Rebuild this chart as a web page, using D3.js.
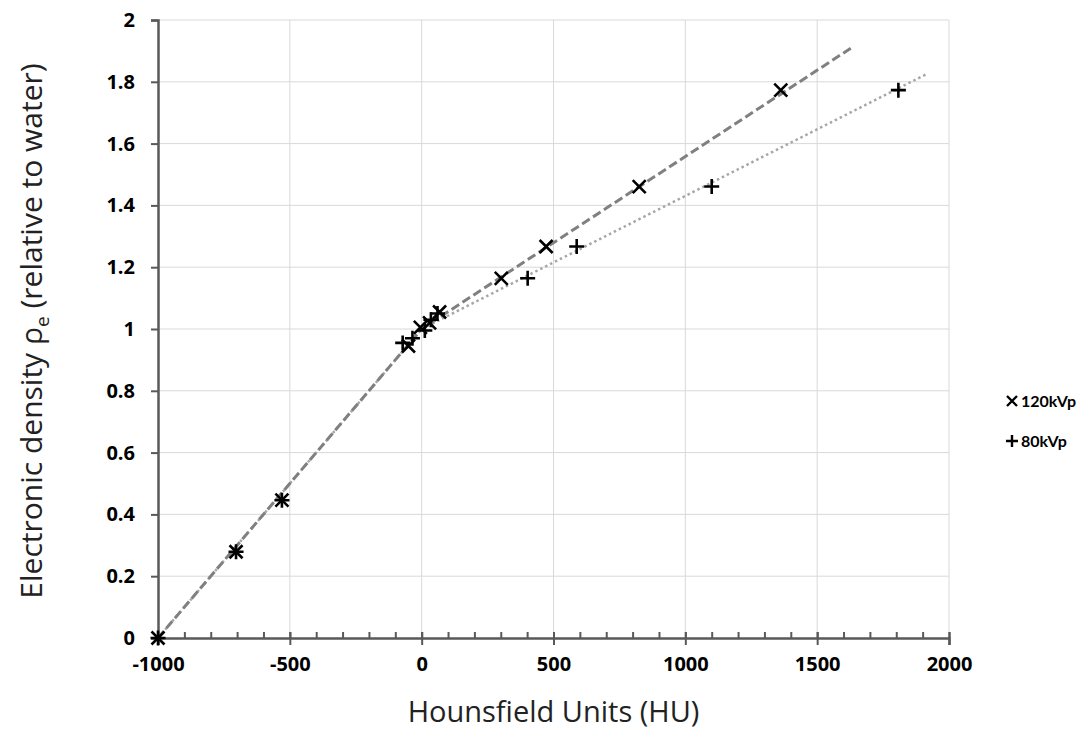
<!DOCTYPE html>
<html>
<head>
<meta charset="utf-8">
<script src="https://cdn.jsdelivr.net/npm/d3@7"></script>
<style>
body { margin: 0; background: #fff; }
svg text { font-family: "Open Sans", Lato, sans-serif; }
</style>
</head>
<body>
<div id="chart"></div>
<script>
// data
var hu120 = [-1000, -704, -530, -50, -5, 30, 68, 302, 472, 825, 1362];
var rho120 = [0, 0.279, 0.446, 0.945, 1.005, 1.02, 1.055, 1.164, 1.267, 1.461, 1.773];
var hu80 = [-1000, -704, -530, -72, -35, 12, 35, 60, 402, 588, 1100, 1808];
var rho80 = [0, 0.279, 0.446, 0.955, 0.97, 0.995, 1.03, 1.05, 1.164, 1.267, 1.461, 1.773];

// fitted lines (break points)
var fit120Hu = [-1000, 0, 1630];
var fit120Rho = [0, 1.0, 1.91];
var fit80Hu = [-1000, 0, 1915];
var fit80Rho = [0, 1.0, 1.825];

var xTicks = [-1000, -500, 0, 500, 1000, 1500, 2000];
var xMinorTicks = d3.range(-900, 2001, 100);
var yTicks = [0, 0.2, 0.4, 0.6, 0.8, 1, 1.2, 1.4, 1.6, 1.8, 2];
var legendLabels = ["120kVp", "80kVp"];

var width = 1081, height = 729;
var margin = {left: 158, right: 132, top: 20, bottom: 91};

var svg = d3.select("#chart")
    .append("svg")
    .attr("width", width)
    .attr("height", height);

var x = d3.scaleLinear().domain([-1000, 2000]).range([margin.left, width - margin.right]);
var y = d3.scaleLinear().domain([0, 2]).range([height - margin.bottom, margin.top]);

var zip = function (a, b) { return a.map(function (v, i) { return [v, b[i]]; }); };

// grid
svg.append("g").selectAll("line")
    .data(yTicks.slice(1))
    .enter().append("line")
    .attr("x1", x(-1000)).attr("x2", x(2000))
    .attr("y1", function (d) { return y(d); })
    .attr("y2", function (d) { return y(d); })
    .attr("stroke", "#d9d9d9").attr("stroke-width", 1);

svg.append("g").selectAll("line")
    .data(xTicks.slice(1))
    .enter().append("line")
    .attr("y1", y(0)).attr("y2", y(2))
    .attr("x1", function (d) { return x(d); })
    .attr("x2", function (d) { return x(d); })
    .attr("stroke", "#d9d9d9").attr("stroke-width", 1);

// fit lines
var line = d3.line().x(function (d) { return x(d[0]); }).y(function (d) { return y(d[1]); });

svg.append("path")
    .datum(zip(fit80Hu, fit80Rho))
    .attr("d", line)
    .attr("fill", "none")
    .attr("stroke", "#a6a6a6")
    .attr("stroke-width", 2.5)
    .attr("stroke-dasharray", "2.5,3");

svg.append("path")
    .datum(zip(fit120Hu, fit120Rho))
    .attr("d", line)
    .attr("fill", "none")
    .attr("stroke", "#808080")
    .attr("stroke-width", 3)
    .attr("stroke-dasharray", "9,4");

// axes
var xMinor = svg.append("g").attr("transform", "translate(0," + y(0) + ")");
xMinor.call(d3.axisTop(x).tickValues(xMinorTicks).tickSize(6).tickFormat(""));
xMinor.select(".domain").remove();
xMinor.selectAll("line").attr("stroke", "#595959").attr("stroke-width", 2);

var xAxis = svg.append("g").attr("transform", "translate(0," + y(0) + ")");
xAxis.call(d3.axisBottom(x).tickValues(xTicks).tickSize(7).tickPadding(12).tickFormat(function (d) { return String(d); }));
xAxis.selectAll(".tick line").attr("y1", -6);
xAxis.selectAll("path").attr("stroke", "#595959").attr("stroke-width", 2.5);
xAxis.selectAll("line").attr("stroke", "#595959").attr("stroke-width", 2);
xAxis.selectAll("text")
    .attr("fill", "#000")
    .style("font-size", "20px")
    .style("font-weight", "bold");

var yAxis = svg.append("g").attr("transform", "translate(" + x(-1000) + ",0)");
yAxis.call(d3.axisLeft(y).tickValues(yTicks).tickSize(7).tickPadding(16).tickFormat(function (d) { return String(+d.toFixed(1)); }));
yAxis.selectAll("path").attr("stroke", "#595959").attr("stroke-width", 2.5);
yAxis.selectAll("line").attr("stroke", "#595959").attr("stroke-width", 2);
yAxis.selectAll("text")
    .attr("fill", "#000")
    .style("font-size", "20px")
    .style("font-weight", "bold");

// markers
var cross = function (s) { return "M" + -s + "," + -s + "L" + s + "," + s + "M" + -s + "," + s + "L" + s + "," + -s; };
var plus = function (s) { return "M" + -s + ",0L" + s + ",0M0," + -s + "L0," + s; };

svg.append("g").selectAll("path")
    .data(zip(hu80, rho80))
    .enter().append("path")
    .attr("transform", function (d) { return "translate(" + x(d[0]) + "," + y(d[1]) + ")"; })
    .attr("d", plus(7.5))
    .attr("stroke", "#000")
    .attr("stroke-width", 2.6);

svg.append("g").selectAll("path")
    .data(zip(hu120, rho120))
    .enter().append("path")
    .attr("transform", function (d) { return "translate(" + x(d[0]) + "," + y(d[1]) + ")"; })
    .attr("d", cross(6.5))
    .attr("stroke", "#000")
    .attr("stroke-width", 2.6);

// axis titles
svg.append("text")
    .attr("x", (x(-1000) + x(2000)) / 2)
    .attr("y", 722)
    .attr("text-anchor", "middle")
    .attr("fill", "#222")
    .style("font-size", "29px")
    .text("Hounsfield Units (HU)");

var yTitle = svg.append("text")
    .attr("transform", "translate(42," + (y(1) + 2) + ") rotate(-90)")
    .attr("text-anchor", "middle")
    .attr("fill", "#222")
    .style("font-size", "30px");
yTitle.append("tspan").text("Electronic density ρ");
yTitle.append("tspan").attr("dy", 7).style("font-size", "19px").text("e");
yTitle.append("tspan").attr("dy", -7).text(" (relative to water)");

// legend
var legend = svg.append("g").attr("transform", "translate(1012,401)");
legend.append("path").attr("d", cross(5)).attr("stroke", "#000").attr("stroke-width", 2.4);
legend.append("path").attr("transform", "translate(0,40)").attr("d", plus(6)).attr("stroke", "#000").attr("stroke-width", 2.4);
legend.selectAll("text")
    .data(legendLabels)
    .enter().append("text")
    .attr("x", 9)
    .attr("y", function (d, i) { return i * 40 + 6; })
    .attr("fill", "#000")
    .style("font-family", "Lato, sans-serif")
    .style("font-size", "16px")
    .style("font-weight", "bold")
    .text(function (d) { return d; });
</script>
</body>
</html>
